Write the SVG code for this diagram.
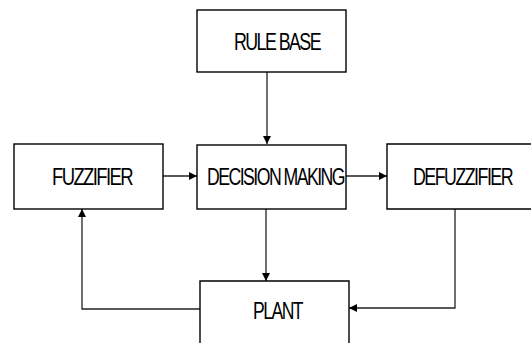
<svg xmlns="http://www.w3.org/2000/svg" width="531" height="343" viewBox="0 0 531 343">
  <style>
    .box { fill: #fff; stroke: #000; stroke-width: 1.4; }
    .lbl { font-family: "Liberation Sans", Arial, sans-serif; font-size: 23px; fill: #000; letter-spacing: -2px; }
    .wire { fill: none; stroke: #222; stroke-width: 1.3; }
  </style>
  <defs>
    <marker id="arrow" viewBox="0 0 10 10" refX="10" refY="5" markerWidth="10" markerHeight="8" markerUnits="userSpaceOnUse" orient="auto">
      <path d="M0,0 L10,5 L0,10 Z" fill="#000"/>
    </marker>
  </defs>

  <g id="connectors">
    <line class="wire" x1="267" y1="72" x2="267" y2="144" marker-end="url(#arrow)"/>
    <line class="wire" x1="163" y1="176" x2="197" y2="176" marker-end="url(#arrow)"/>
    <line class="wire" x1="346" y1="176" x2="387" y2="176" marker-end="url(#arrow)"/>
    <line class="wire" x1="266" y1="209" x2="266" y2="281" marker-end="url(#arrow)"/>
    <polyline class="wire" points="455,208 455,308 349,308" marker-end="url(#arrow)"/>
    <polyline class="wire" points="200,309 82,309 82,209" marker-end="url(#arrow)"/>
  </g>

  <g id="rule-base">
    <rect class="box" x="197" y="10" width="149" height="62"/>
    <text class="lbl" x="234" y="50" textLength="86" lengthAdjust="spacingAndGlyphs">RULE BASE</text>
  </g>

  <g id="fuzzifier">
    <rect class="box" x="14" y="144" width="149" height="65"/>
    <text class="lbl" x="52" y="185" textLength="80" lengthAdjust="spacingAndGlyphs">FUZZIFIER</text>
  </g>

  <g id="decision-making">
    <rect class="box" x="197" y="145" width="149" height="64"/>
    <text class="lbl" x="207" y="185" textLength="137" lengthAdjust="spacingAndGlyphs">DECISION MAKING</text>
  </g>

  <g id="defuzzifier">
    <polyline class="box" points="535,144 387,144 387,209 535,209"/>
    <text class="lbl" x="413" y="185" textLength="99" lengthAdjust="spacingAndGlyphs">DEFUZZIFIER</text>
  </g>

  <g id="plant">
    <polyline class="box" points="200,345 200,281 349,281 349,345"/>
    <text class="lbl" x="253" y="319" textLength="49" lengthAdjust="spacingAndGlyphs">PLANT</text>
  </g>
</svg>
